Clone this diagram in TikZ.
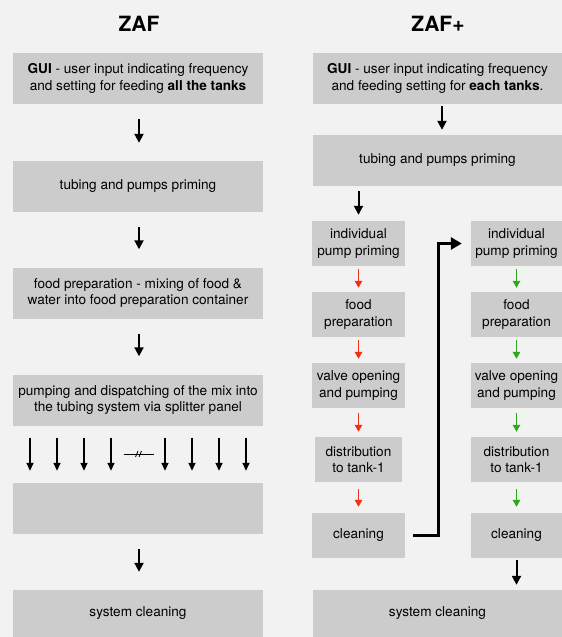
\documentclass[tikz,border=0pt]{standalone}
\usepackage{fontspec}
\setmainfont{TeX Gyre Heros}
\usetikzlibrary{arrows.meta}
\definecolor{pagegray}{HTML}{F2F2F2}
\definecolor{boxgray}{HTML}{CCCCCC}
\definecolor{stepred}{HTML}{F2301A}
\definecolor{stepgreen}{HTML}{2EA81E}
\tikzset{
    stagebox/.style={fill=boxgray, inner sep=0pt, align=center,
        font=\fontsize{13.6}{16.5}\selectfont},
    widebox/.style={stagebox, minimum width=250pt, minimum height=51pt},
    smallbox/.style={stagebox, minimum width=93pt, minimum height=45pt},
    headline/.style={font=\fontsize{21}{24}\selectfont\bfseries, inner sep=0pt},
    mainarrow/.style={line width=2pt, -{Triangle[length=9pt,width=9pt]}},
    thinarrow/.style={line width=1.5pt, -{Triangle[length=8pt,width=7pt]}},
    redarrow/.style={stepred, line width=1.4pt, -{Triangle[length=7pt,width=7.5pt]}},
    greenarrow/.style={stepgreen, line width=1.4pt, -{Triangle[length=7pt,width=7.5pt]}},
    loopback/.style={line width=3pt, -{Triangle[length=11pt,width=12pt]}}
}
\begin{document}
\begin{tikzpicture}[x=1pt, y=-1pt]
    \fill[pagegray] (0,0) rectangle (562,637);
    % ZAF
    \node[headline] (ltitle) at (139,23.5) {ZAF};
    \node[widebox] (lgui) at (138,78.5) {\textbf{GUI} - user input indicating frequency\\and setting for feeding \textbf{all the tanks}};
    \node[widebox] (ltube) at (138,186.5) {tubing and pumps priming};
    \node[widebox] (lmix) at (138,293) {food preparation - mixing of food \&\\water into food preparation container};
    \node[widebox] (lpump) at (138,400) {pumping and dispatching of the mix into\\the tubing system via splitter panel};
    \node[widebox] (lempty) at (138,508.5) {};
    \node[widebox, minimum height=47pt] (lsys) at (138,613.5) {system cleaning};
    \foreach \a/\b in {lgui/ltube, ltube/lmix, lmix/lpump, lempty/lsys}
        \draw[mainarrow, shorten <=15pt, shorten >=18pt] ([xshift=1pt]\a.south) -- ([xshift=1pt]\b.north);
    \foreach \dx in {-108,-81,-54,-27,27,54,81,108}
        \draw[thinarrow, shorten <=12pt, shorten >=12pt] ([xshift=\dx pt]lpump.south) -- ([xshift=\dx pt]lempty.north);
    \coordinate (gap) at (138.5,454);
    \draw[line width=1pt] (gap) +(-15,0) -- +(15,0);
    \draw[line width=0.8pt] (gap) +(-3,3) -- +(-0.5,-3) (gap) +(0.5,3) -- +(3,-3);
    % ZAF+
    \node[headline] (rtitle) at (438,23.5) {ZAF+};
    \node[widebox, minimum width=249pt] (rgui) at (437.5,78.5) {\textbf{GUI} - user input indicating frequency\\and feeding setting for \textbf{each tanks}.};
    \node[widebox, minimum width=249pt] (rtube) at (437.5,160.5) {tubing and pumps priming};
    \node[smallbox] (aprime) at (358.5,243.5) {individual\\pump priming};
    \node[smallbox] (afood) at (358.5,314.5) {food\\preparation};
    \node[smallbox] (avalve) at (358.5,385.5) {valve opening\\and pumping};
    \node[smallbox, minimum width=87pt] (adist) at (358.5,459.5) {distribution\\to tank-1};
    \node[smallbox] (aclean) at (358.5,535.5) {cleaning};
    \node[smallbox, minimum width=91pt] (bprime) at (516.5,243.5) {individual\\pump priming};
    \node[smallbox, minimum width=91pt] (bfood) at (516.5,314.5) {food\\preparation};
    \node[smallbox, minimum width=91pt] (bvalve) at (516.5,385.5) {valve opening\\and pumping};
    \node[smallbox, minimum width=91pt] (bdist) at (516.5,459.5) {distribution\\to tank-1};
    \node[smallbox, minimum width=91pt] (bclean) at (516.5,535.5) {cleaning};
    \node[widebox, minimum width=249pt, minimum height=47pt] (rsys) at (437.5,613.5) {system cleaning};
    \draw[mainarrow, shorten <=2pt, shorten >=5pt] ([xshift=4.5pt]rgui.south) -- ([xshift=4.5pt]rtube.north);
    \draw[mainarrow, shorten <=5pt, shorten >=6pt] (rtube.south -| aprime.north) -- (aprime.north);
    \foreach \a/\b/\s/\t in {prime/food/3/4, food/valve/3/4, valve/dist/5/5, dist/clean/7/6} {
        \draw[redarrow, shorten <=\s pt, shorten >=\t pt] (a\a) -- (a\b);
        \draw[greenarrow, shorten <=\s pt, shorten >=\t pt] (b\a) -- (b\b);
    }
    \draw[loopback, shorten <=8pt, shorten >=9pt] (aclean.east) -- ++(33,0) |- (bprime.west);
    \draw[mainarrow, shorten <=2pt, shorten >=5pt] (bclean.south) -- (rsys.north -| bclean.south);
\end{tikzpicture}
\end{document}
